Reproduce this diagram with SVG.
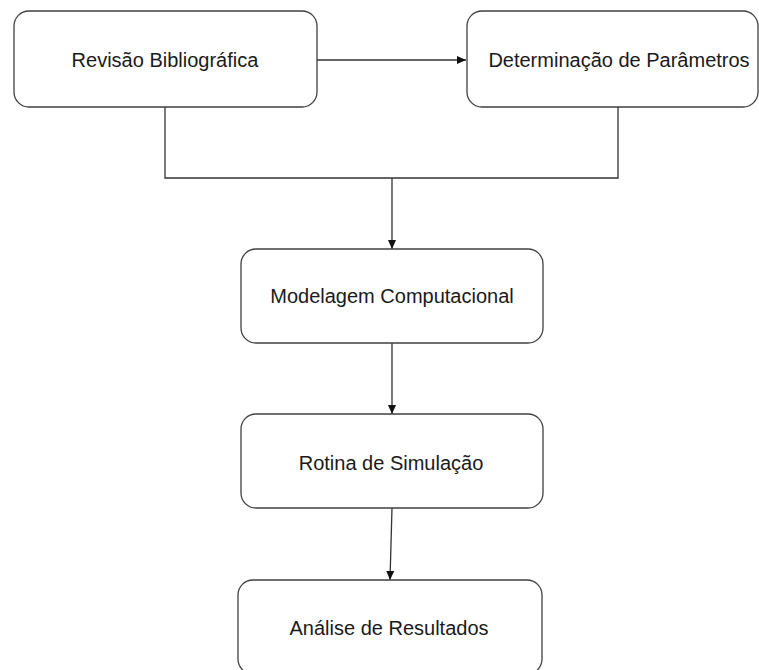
<svg xmlns="http://www.w3.org/2000/svg" width="759" height="670" viewBox="0 0 759 670">
<defs>
<style>
.box{fill:#fff;stroke:#404040;stroke-width:1.3}
.lbl{font-family:"Liberation Sans",Arial,sans-serif;font-size:20px;fill:#1a1a1a;text-anchor:middle}
.con{fill:none;stroke:#333;stroke-width:1.3}
</style>
<marker id="ah" markerWidth="10" markerHeight="10" refX="9" refY="5" orient="auto" markerUnits="userSpaceOnUse">
<path d="M0,1 L9,5 L0,9 Z" fill="#111"/>
</marker>
</defs>
<rect width="759" height="670" fill="#fff"/>
<g id="connectors">
<line class="con" x1="317" y1="60" x2="466" y2="60" marker-end="url(#ah)"/>
<polyline class="con" points="165,107 165,178 618,178 618,107"/>
<line class="con" x1="392" y1="178" x2="392" y2="249" marker-end="url(#ah)"/>
<line class="con" x1="392" y1="343" x2="392" y2="414" marker-end="url(#ah)"/>
<line class="con" x1="392" y1="508" x2="390" y2="580" marker-end="url(#ah)"/>
</g>
<g id="n1"><rect class="box" x="14" y="11" width="303" height="96" rx="15"/><text class="lbl" x="165" y="67">Revisão Bibliográfica</text></g>
<g id="n2"><rect class="box" x="467" y="11" width="291" height="96" rx="15"/><text class="lbl" x="619" y="67">Determinação de Parâmetros</text></g>
<g id="n3"><rect class="box" x="241" y="249" width="302" height="94" rx="15"/><text class="lbl" x="392" y="303">Modelagem Computacional</text></g>
<g id="n4"><rect class="box" x="241" y="414" width="302" height="94" rx="15"/><text class="lbl" x="391" y="470">Rotina de Simulação</text></g>
<g id="n5"><rect class="box" x="238" y="580" width="304" height="94" rx="15"/><text class="lbl" x="389" y="635">Análise de Resultados</text></g>
</svg>
